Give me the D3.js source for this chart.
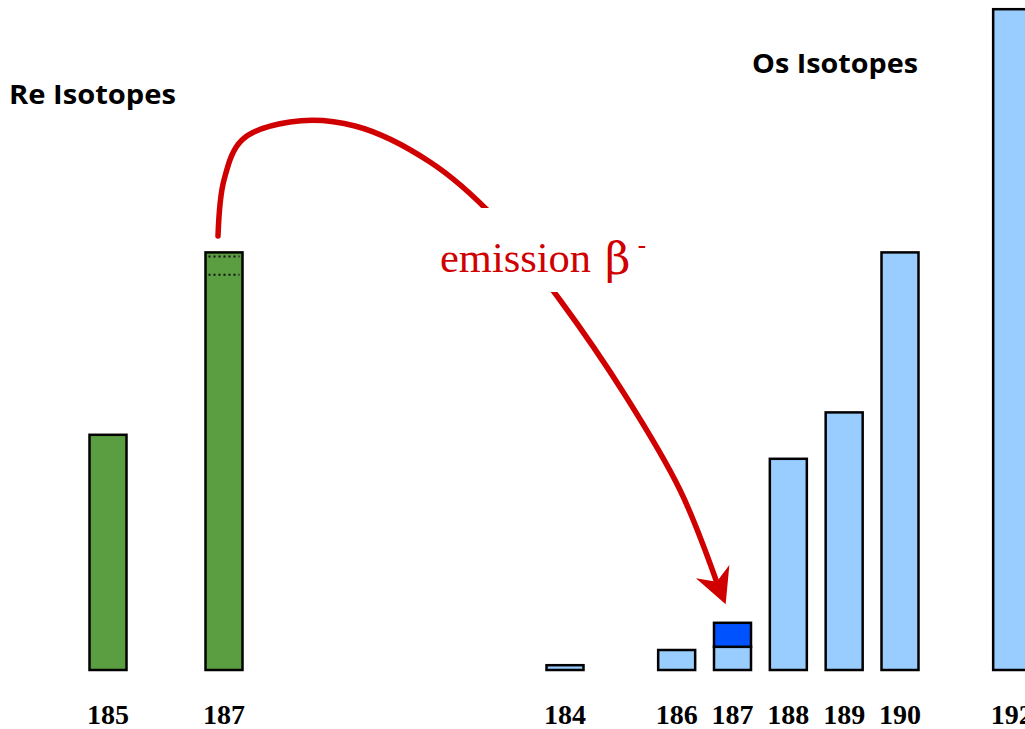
<!DOCTYPE html>
<html>
<head>
<meta charset="utf-8">
<script src="https://cdn.jsdelivr.net/npm/d3@7"></script>
<style>
  body { margin: 0; background: #fff; }
  svg { display: block; }
</style>
</head>
<body>
<svg id="chart" width="1025" height="729"></svg>
<script>
// Re isotopes (mass numbers and bar heights, abundance-like units)
const reMasses = [185, 187];
const reValues = [14.7, 26.1];
// dotted marks inside the Re-187 bar (decayed part)
const reDotted = [25.85, 24.7];

// Os isotopes
const osMasses = [184, 186, 187, 188, 189, 190, 192];
const osValues = [0.3, 1.25, 1.45, 13.2, 16.1, 26.1, 41.3];
// radiogenic 187Os added on top of the common part
const osRadiogenic = [0, 0, 1.5, 0, 0, 0, 0];

const titles = ["Re Isotopes", "Os Isotopes"];
const arrowLabel = "emission";

// annotation waypoints for the decay arrow
const arrowPoints = [
    [218, 236], [224, 180], [242, 140], [290, 122], [355, 126],
    [430, 162], [495, 218], [560, 300], [625, 395], [680, 490], [716, 580]
];

var svg = d3.select('#chart');

var scale =
{
    xRe: d3.scaleLinear().domain([185, 187]).range([108, 224]),
    xOs: d3.scaleLinear().domain([184, 190]).range([565, 900]),
    y: d3.scaleLinear().domain([0, 10]).range([670, 510])
};

const barWidth = 37;

// Re bars
svg.append('g').selectAll('rect')
    .data(reMasses)
    .join('rect')
    .attr('x', (d) => scale.xRe(d) - barWidth / 2)
    .attr('width', barWidth)
    .attr('y', (d, i) => scale.y(reValues[i]))
    .attr('height', (d, i) => scale.y(0) - scale.y(reValues[i]))
    .attr('fill', '#5b9e42')
    .attr('stroke', '#000')
    .attr('stroke-width', 2.5);

svg.append('g').selectAll('line')
    .data(reDotted)
    .join('line')
    .attr('x1', scale.xRe(187) - barWidth / 2 + 3)
    .attr('x2', scale.xRe(187) + barWidth / 2 - 3)
    .attr('y1', (d) => scale.y(d))
    .attr('y2', (d) => scale.y(d))
    .attr('stroke', '#111')
    .attr('stroke-width', 2)
    .attr('stroke-dasharray', '2,3');

// Os bars
var osG = svg.append('g');
osG.selectAll('rect.common')
    .data(osMasses)
    .join('rect')
    .attr('class', 'common')
    .attr('x', (d) => scale.xOs(d) - barWidth / 2)
    .attr('width', barWidth)
    .attr('y', (d, i) => scale.y(osValues[i]))
    .attr('height', (d, i) => scale.y(0) - scale.y(osValues[i]))
    .attr('fill', '#99ccff')
    .attr('stroke', '#000')
    .attr('stroke-width', 2.5);

osG.selectAll('rect.radio')
    .data(osMasses.filter((d, i) => osRadiogenic[i] > 0))
    .join('rect')
    .attr('class', 'radio')
    .attr('x', (d) => scale.xOs(d) - barWidth / 2)
    .attr('width', barWidth)
    .attr('y', (d) => {
        const i = osMasses.indexOf(d);
        return scale.y(osValues[i] + osRadiogenic[i]);
    })
    .attr('height', (d) => {
        const i = osMasses.indexOf(d);
        return scale.y(osValues[i]) - scale.y(osValues[i] + osRadiogenic[i]);
    })
    .attr('fill', '#0052ff')
    .attr('stroke', '#000')
    .attr('stroke-width', 2.5);

// mass labels
var labelStyle = (sel) => sel
    .attr('y', 724)
    .attr('text-anchor', 'middle')
    .attr('font-family', '"Liberation Serif", "Times New Roman", serif')
    .attr('font-weight', 'bold')
    .attr('font-size', 28)
    .attr('fill', '#000');

svg.append('g').selectAll('text')
    .data(reMasses)
    .join('text')
    .attr('x', (d) => scale.xRe(d))
    .text((d) => d)
    .call(labelStyle);

svg.append('g').selectAll('text')
    .data(osMasses)
    .join('text')
    .attr('x', (d) => scale.xOs(d))
    .text((d) => d)
    .call(labelStyle);

// group titles
svg.append('text')
    .attr('x', 9).attr('y', 104)
    .attr('font-family', '"Open Sans", sans-serif')
    .attr('font-weight', 'bold')
    .attr('font-size', 27)
    .attr('textLength', 167)
    .attr('lengthAdjust', 'spacingAndGlyphs')
    .attr('fill', '#000')
    .text(titles[0]);

svg.append('text')
    .attr('x', 752).attr('y', 73)
    .attr('font-family', '"Open Sans", sans-serif')
    .attr('font-weight', 'bold')
    .attr('font-size', 27)
    .attr('textLength', 166)
    .attr('lengthAdjust', 'spacingAndGlyphs')
    .attr('fill', '#000')
    .text(titles[1]);

// decay arrow
var lineGenerator = d3.line().curve(d3.curveCatmullRom.alpha(0.5));
const red = '#d00000';

svg.append('path')
    .attr('d', lineGenerator(arrowPoints))
    .attr('fill', 'none')
    .attr('stroke', red)
    .attr('stroke-width', 5.5)
    .attr('stroke-linecap', 'round');

// arrow head, oriented along the last segment
const pA = arrowPoints[arrowPoints.length - 2];
const pB = arrowPoints[arrowPoints.length - 1];
const ang = Math.atan2(pB[1] - pA[1], pB[0] - pA[0]) * 180 / Math.PI;
svg.append('path')
    .attr('d', 'M26,0 L-9,-18 L2,0 L-9,18 Z')
    .attr('transform', `translate(${pB[0]},${pB[1]}) rotate(${ang})`)
    .attr('fill', red);

// label with white box breaking the curve
svg.append('rect')
    .attr('x', 430).attr('y', 208)
    .attr('width', 240).attr('height', 84)
    .attr('fill', '#fff');

svg.append('text')
    .attr('x', 440).attr('y', 272)
    .attr('font-family', '"Liberation Serif", "Times New Roman", serif')
    .attr('font-size', 42)
    .attr('textLength', 151)
    .attr('lengthAdjust', 'spacingAndGlyphs')
    .attr('fill', red)
    .text(arrowLabel);
var beta = svg.append('text')
    .attr('x', 605).attr('y', 274)
    .attr('font-family', '"DejaVu Serif", "Liberation Serif", serif')
    .attr('font-size', 44)
    .attr('fill', red);
beta.append('tspan').text('β');
beta.append('tspan')
    .attr('dx', 7)
    .attr('dy', -20)
    .attr('font-size', 26)
    .text('-');
</script>
</body>
</html>
